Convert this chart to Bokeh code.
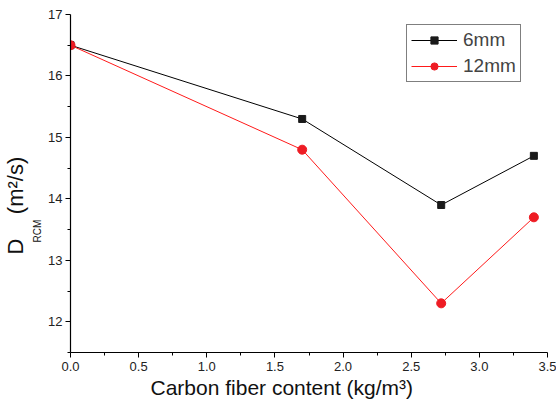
import math
from bokeh.plotting import figure
from bokeh.models import Range1d, Title, Legend, LegendItem, FixedTicker
from bokeh.embed import file_html
from bokeh.resources import INLINE

content = [0.0, 1.7, 2.72, 3.4]
d_6mm = [16.5, 15.3, 13.9, 14.7]
d_12mm = [16.5, 14.8, 12.3, 13.7]
x_ticks = [0.0, 0.5, 1.0, 1.5, 2.0, 2.5, 3.0, 3.5]
y_ticks = [12, 13, 14, 15, 16, 17]

p = figure(width=556, height=404, output_backend="svg", toolbar_location=None,
           x_range=Range1d(0, 3.5), y_range=Range1d(11.5, 17),
           min_border_left=70, min_border_right=9, min_border_top=14, min_border_bottom=52)
p.outline_line_color = None
p.grid.visible = False
p.background_fill_color = "white"

FONT = "Liberation Sans"
for ax in (p.xaxis[0], p.yaxis[0]):
    ax.axis_line_color = "black"
    ax.axis_line_width = 1.2
    ax.major_tick_line_color = "black"
    ax.minor_tick_line_color = "black"
    ax.major_tick_in = 0
    ax.major_tick_out = 5
    ax.minor_tick_in = 0
    ax.minor_tick_out = 3
    ax.major_label_text_font = FONT
    ax.major_label_text_font_size = "13px"
    ax.major_label_text_color = "#222222"

p.xaxis[0].ticker = FixedTicker(ticks=x_ticks, minor_ticks=[0.25, 0.75, 1.25, 1.75, 2.25, 2.75, 3.25])
p.yaxis[0].ticker = FixedTicker(ticks=y_ticks, minor_ticks=[11.5, 12.5, 13.5, 14.5, 15.5, 16.5])
p.xaxis[0].major_label_overrides = {v: f"{v:.1f}" for v in x_ticks}
p.xaxis[0].major_label_standoff = 4
p.yaxis[0].major_label_standoff = 3
p.xaxis[0].axis_label = None
p.yaxis[0].axis_label = None

r6l = p.line(content, d_6mm, line_color="black", line_width=1)
r6m = p.scatter(content, d_6mm, marker="square", size=7, fill_color="#1a1a1a", line_color="#1a1a1a")
r12l = p.line(content, d_12mm, line_color="#ff1a1a", line_width=1)
r12m = p.scatter(content, d_12mm, marker="circle", size=9, fill_color="#ee1c24", line_color="#ee1c24")

legend = Legend(items=[LegendItem(label="6mm", renderers=[r6l, r6m]),
                       LegendItem(label="12mm", renderers=[r12l, r12m])],
                location=(336, 270), border_line_color="black", border_line_width=1,
                label_text_font=FONT, label_text_font_size="19px", glyph_width=46,
                glyph_height=18, label_height=18, spacing=4, padding=4, margin=0,
                label_standoff=6, background_fill_alpha=1)
p.add_layout(legend, "center")

xtitle = Title(text="Carbon fiber content (kg/m\u00b3)", align="left", offset=80, standoff=0,
               text_font=FONT, text_font_size="21px", text_font_style="normal", text_color="#111111")
p.add_layout(xtitle, "below")

sub = Title(text="RCM", align="left", offset=110, standoff=5,
            text_font=FONT, text_font_size="10px", text_font_style="normal", text_color="#111111")
main = Title(text="D\u00a0\u00a0\u00a0\u00a0(m\u00b2/s)", align="left", offset=98, standoff=0,
             text_font=FONT, text_font_size="22px", text_font_style="normal", text_color="#111111")
p.add_layout(sub, "left")
p.add_layout(main, "left")

open("out.html", "w").write(file_html(p, INLINE))
